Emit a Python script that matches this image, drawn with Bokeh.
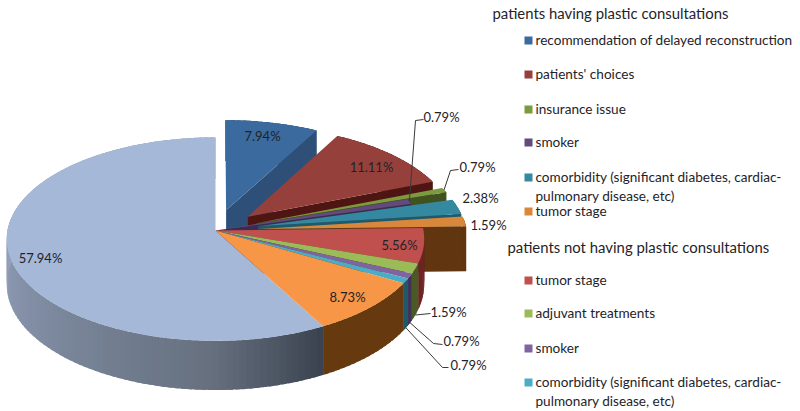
import math
from bokeh.plotting import figure
from bokeh.models import Range1d
from bokeh.core.properties import value
from bokeh.embed import file_html
from bokeh.resources import INLINE

# ---------- data ----------
group_a = "patients having plastic consultations"
group_b = "patients not having plastic consultations"
categories_a = ["recommendation of delayed reconstruction", "patients' choices", "insurance issue", "smoker",
                "comorbidity (significant diabetes, cardiac-\npulmonary disease, etc)", "tumor stage"]
categories_b = ["tumor stage", "adjuvant treatments", "smoker",
                "comorbidity (significant diabetes, cardiac-\npulmonary disease, etc)"]
values_a = [7.94, 11.11, 0.79, 0.79, 2.38, 1.59]
values_b = [5.56, 1.59, 0.79, 0.79, 8.73]
value_rest = [57.94]

# ---------- styles ----------
FONT = "Lato"
TEXT = "#1f2328"
top_colors = ["#3b6a9e", "#96403c", "#7c9a3f", "#64497f", "#34889f", "#d9873a",
              "#c0504d", "#9bbb59", "#8064a2", "#4bacc6", "#f79646", "#a6b8d8"]
wall_colors = ["#2e5078", "#4f1512", "#3f5220", "#3b2c52", "#1d5a6c", "#60350f",
               "#6b2523", "#4a5a25", "#43325a", "#22586a", "#67390f", "#8d9ab2"]
big_wall_stops = [(0, "#3b4350"), (.14, "#66707f"), (.4, "#808da3"), (.6, "#95a3bb"), (1, "#95a3bb")]
explode = [.21, .21, .21, 0, .21, .21, 0, 0, 0, 0, 0, 0]
CX, CY, RX, RY, K, DEPTH = 215, 230, 208, 101, .085, 45
W, H = 800, 411

def pt(angle, r=1.0, off=0.0, mid=0.0, down=False):
    u = r * math.sin(angle) + off * math.sin(mid)
    v = -r * math.cos(angle) - off * math.cos(mid)
    s = 1 / (1 - K * v)
    return CX + RX * u * s, CY + RY * v * s + (DEPTH * s if down else 0)

def lerp_hex(a, b, t):
    ca = [int(a[i:i + 2], 16) for i in (1, 3, 5)]
    cb = [int(b[i:i + 2], 16) for i in (1, 3, 5)]
    return "#%02x%02x%02x" % tuple(round(x + (y - x) * t) for x, y in zip(ca, cb))

def stop_color(t):
    for (t0, c0), (t1, c1) in zip(big_wall_stops, big_wall_stops[1:]):
        if t <= t1:
            return lerp_hex(c0, c1, (t - t0) / (t1 - t0))
    return big_wall_stops[-1][1]

vals = values_a + values_b + value_rest
total = sum(vals)
edges = [0.0]
for v in vals:
    edges.append(edges[-1] + v / total * 2 * math.pi)

xs, ys, fills = [], [], []
def add(poly, color):
    xs.append([q[0] for q in poly]); ys.append([q[1] for q in poly]); fills.append(color)

def slice_geometry(i):
    a0, a1 = edges[i], edges[i + 1]
    n = max(3, int((a1 - a0) / .03))
    return a0, a1, (a0 + a1) / 2, explode[i], [a0 + (a1 - a0) * j / n for j in range(n + 1)]

def add_walls(i):
    a0, a1, mid, d, angs = slice_geometry(i)
    if i < 6:  # the cut face is seen only on the slices behind the centre
        add([pt(a1, 0, d, mid), pt(a1, 1, d, mid), pt(a1, 1, d, mid, True), pt(a1, 0, d, mid, True)], wall_colors[i])
    n = len(angs) - 1
    for j in range(n):  # painted with a small overlap so no seams show
        col = stop_color((angs[j] - a0) / (a1 - a0)) if i == 11 else wall_colors[i]
        end = angs[j + 1] if j == n - 1 else angs[j + 1] + .02
        add([pt(angs[j], 1, d, mid), pt(end, 1, d, mid), pt(end, 1, d, mid, True), pt(angs[j], 1, d, mid, True)], col)

def add_face(i):
    a0, a1, mid, d, angs = slice_geometry(i)
    add([pt(a0, 0, d, mid)] + [pt(a, 1, d, mid) for a in angs], top_colors[i])

add_walls(11)
for i in range(6):
    add_walls(i); add_face(i)
add_face(11)
for i in range(6, 11):
    add_walls(i); add_face(i)

p = figure(width=W, height=H, output_backend="svg", toolbar_location=None,
           x_range=Range1d(0, W), y_range=Range1d(H, 0), min_border=0,
           background_fill_color="white", border_fill_color="white", outline_line_color=None)
p.axis.visible = False
p.grid.visible = False
p.patches(xs, ys, fill_color=fills, line_color=None)

# ---------- value labels ----------
label_xy = [(262, 135), (371, 166), (441, 116), (477, 166), (480, 197), (488, 224),
            (399, 244), (448, 311), (461, 340), (468, 364), (347, 296), (40, 257)]
p.text([q[0] for q in label_xy], [q[1] for q in label_xy], text=[f"{v:.2f}%" for v in vals],
       text_font=value(FONT), text_font_size="13px", text_color=TEXT,
       text_align="center", text_baseline="middle")

# ---------- leader lines: slice index, on the bottom rim?, elbow points ----------
leaders = [(3, False, [(415, 120), (423, 119)]), (2, False, [(450, 170), (458, 169)]),
           (7, True, [(430, 313)]), (8, True, [(433, 343), (442, 344)]), (9, True, [(442, 367), (448, 367)])]
lx, ly = [], []
for i, low, bend in leaders:
    mid = (edges[i] + edges[i + 1]) / 2
    start = pt(mid, 1, explode[i], mid, low)
    lx.append([start[0]] + [b[0] for b in bend])
    ly.append([start[1]] + [b[1] for b in bend])
p.multi_line(lx, ly, line_color="#3a3a3a", line_width=1)

# ---------- legend ----------
title_x = [492, 507]; title_y = [12, 246]
p.text(title_x, title_y, text=[group_a, group_b], text_font=value(FONT), text_font_size="14.9px",
       text_color=TEXT, text_align="left", text_baseline="middle")
rows_a = [40, 74, 109, 142, 177, 211]
rows_b = [280, 313, 348, 382]
LEG_X, TXT_X = 528, 535
entries = list(zip(categories_a, rows_a, top_colors[:6])) + list(zip(categories_b, rows_b, top_colors[6:10]))
p.rect([LEG_X] * len(entries), [e[1] for e in entries], width=8, height=8,
       fill_color=[e[2] for e in entries], line_color=None)
tx, ty, tt = [], [], []
for name, y, _ in entries:
    for k, line in enumerate(name.split("\n")):
        tx.append(TXT_X); ty.append(y + k * 18.5 - .5); tt.append(line)
p.text(tx, ty, text=tt, text_font=value(FONT), text_font_size="13.6px", text_color=TEXT,
       text_align="left", text_baseline="middle")

open("out.html", "w").write(file_html(p, INLINE))
